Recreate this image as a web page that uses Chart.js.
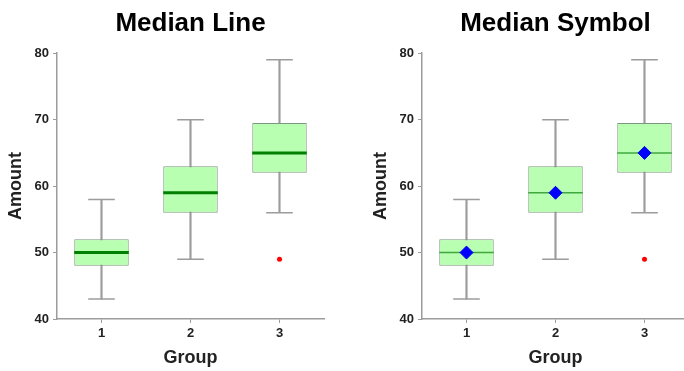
<!DOCTYPE html>
<html><head><meta charset="utf-8">
<script src="https://cdn.jsdelivr.net/npm/chart.js@4"></script>
<style>
html,body{margin:0;padding:0;background:#fff;overflow:hidden;width:684px;height:371px;}
#c1{position:absolute;left:0;top:0;}
#c2{position:absolute;left:365px;top:0;}
</style></head><body>
<canvas id="c1" width="342" height="371"></canvas>
<canvas id="c2" width="342" height="371"></canvas>
<script>
const groups = ['1', '2', '3'];
const whiskerLow = [43, 49, 56];
const q1 = [48, 56, 62];
const median = [50, 59, 65];
const q3 = [52, 63, 69.5];
const whiskerHigh = [58, 70, 79];
const outliers = [null, null, 49];
const titles = ['Median Line', 'Median Symbol'];

const FONT = "'Liberation Sans', Arial, Helvetica, sans-serif";
const AXIS = '#9c9c9c';

function makeConfig(title, symbol) {
  const datasets = [
    { type: 'bar', data: groups.map((g, i) => [whiskerLow[i], whiskerHigh[i]]),
      backgroundColor: AXIS, barThickness: 1.5, grouped: false, order: 10 },
    { type: 'line', data: whiskerLow, showLine: false, pointStyle: 'line',
      pointRadius: 13.3, pointBorderWidth: 1.5, pointBorderColor: AXIS, order: 8 },
    { type: 'line', data: whiskerHigh, showLine: false, pointStyle: 'line',
      pointRadius: 13.3, pointBorderWidth: 1.5, pointBorderColor: AXIS, order: 8 },
    { type: 'bar', data: groups.map((g, i) => [q1[i], q3[i]]),
      backgroundColor: '#b9ffb1', borderColor: '#7c987c', borderWidth: 1, borderSkipped: false,
      barPercentage: 0.612, categoryPercentage: 1, grouped: false, order: 5 },
    { type: 'line', data: median, showLine: false, pointStyle: 'line',
      pointRadius: 27.3, pointBorderWidth: symbol ? 1.5 : 3,
      pointBorderColor: symbol ? '#3fa83f' : '#008000', order: 3 },
    { type: 'line', data: outliers, showLine: false, pointStyle: 'circle',
      pointRadius: 2.5, pointBorderWidth: 0, pointBackgroundColor: '#ff0000', order: 1 }
  ];
  if (symbol) {
    datasets.push({ type: 'line', data: median, showLine: false, pointStyle: 'rectRot',
      pointRadius: 6.5, pointBorderWidth: 1, pointBorderColor: '#0000ee',
      pointBackgroundColor: '#0000ff', order: 1 });
  }
  const tickFont = { family: FONT, size: 13, weight: 'bold' };
  const titleFont = { family: FONT, size: 18, weight: 'bold' };
  return {
    type: 'bar',
    data: { labels: groups, datasets },
    options: {
      responsive: false, animation: false, events: [],
      layout: { autoPadding: false, padding: { top: 0, left: 0, right: 18, bottom: 0 } },
      plugins: {
        legend: { display: false }, tooltip: { enabled: false },
        title: { display: true, text: title, fullSize: false, color: '#000',
          font: { family: FONT, size: 26, weight: 'bold' }, padding: { top: 8, bottom: 14 } }
      },
      scales: {
        x: {
          type: 'category', offset: true,
          grid: { display: true, drawOnChartArea: false, drawTicks: true, tickLength: 4, offset: false, color: AXIS, lineWidth: 1 },
          border: { display: true, color: AXIS, width: 1.5 },
          ticks: { font: tickFont, color: '#222', padding: 3 },
          title: { display: true, text: 'Group', font: titleFont, color: '#222', padding: { top: 0, bottom: 2 } },
          afterFit: s => { s.height = 52; }
        },
        y: {
          min: 40, max: 80,
          grid: { display: true, drawOnChartArea: false, drawTicks: true, tickLength: 4, color: AXIS, lineWidth: 1 },
          border: { display: true, color: AXIS, width: 1.5 },
          ticks: { stepSize: 10, font: tickFont, color: '#222', padding: 4 },
          title: { display: true, text: 'Amount', font: titleFont, color: '#222', padding: { top: 5, bottom: 0 } },
          afterFit: s => { s.width = 57; }
        }
      }
    }
  };
}

new Chart(document.getElementById('c1'), makeConfig(titles[0], false));
new Chart(document.getElementById('c2'), makeConfig(titles[1], true));
</script>
</body></html>
